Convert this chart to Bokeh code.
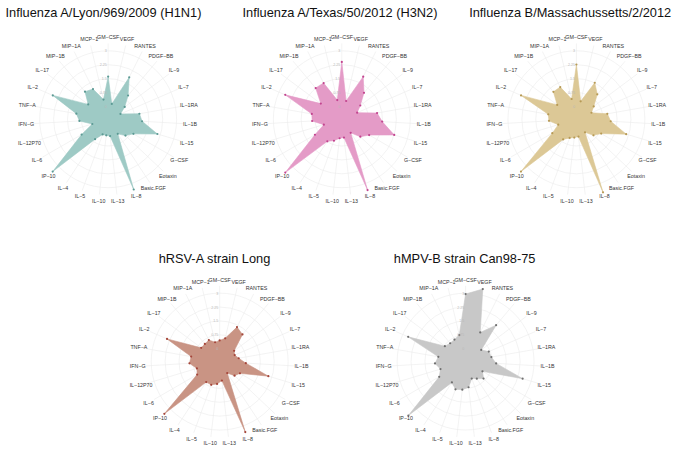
import numpy as np
from bokeh.plotting import figure
from bokeh.models import Range1d
from bokeh.core.properties import value
from bokeh.embed import file_html
from bokeh.resources import INLINE

# ---------------- data ----------------
cytokines = ["GM−CSF", "VEGF", "RANTES", "PDGF−BB", "IL−9", "IL−7", "IL−1RA", "IL−1B",
             "IL−15", "G−CSF", "Eotaxin", "Basic.FGF", "IL−8", "IL−13", "IL−10", "IL−5",
             "IL−4", "IP−10", "IL−6", "IL−12P70", "IFN−G", "TNF−A", "IL−2", "IL−17",
             "MIP−1B", "MIP−1A", "MCP−1"]

h1n1 = [1.61, 0.16, 1.84, 0.98, 0.42, 0.03, 1.02, 1.14, 2.08, 0.88, 0.59, 0.25, 3.34, 0.22,
        0.18, 0.18, 0.59, 3.42, 0.96, 0.20, 0.86, 1.05, 2.56, 0.65, 1.25, 1.13, 0.40]
h3n2 = [2.40, 0.32, 1.88, 1.17, 0.55, 0.21, 1.24, 1.49, 2.26, 1.01, 0.68, 0.18, 3.37, 0.30,
        0.34, 0.54, 0.73, 3.50, 0.98, 0.32, 0.91, 0.95, 2.63, 0.72, 1.50, 1.49, 0.37]
flub = [2.26, 0.30, 1.51, 1.06, 0.47, 0.19, 1.00, 1.16, 2.11, 0.85, 0.57, 0.15, 3.50, 0.25,
        0.30, 0.38, 0.61, 3.42, 0.81, 0.33, 0.79, 0.85, 2.56, 0.60, 1.24, 1.25, 0.43]
hrsv = [0.45, 0.60, 1.39, 1.22, 0.28, 0.19, 0.35, 0.72, 2.05, 0.57, 0.41, 0.05, 3.35, 0.34,
        0.52, 0.64, 0.63, 3.41, 0.71, 0.59, 0.94, 0.87, 2.40, 0.55, 0.55, 0.61, 0.38]
hmpv = [2.95, 3.33, 1.07, 1.87, 0.36, 0.67, 0.72, 0.96, 2.52, 0.36, 0.64, 0.41, 0.28, 0.70,
        0.83, 0.90, 0.65, 3.55, 0.95, 0.72, 0.96, 0.80, 2.68, 0.70, 0.60, 0.64, 0.78]

titles = ["Influenza A/Lyon/969/2009 (H1N1)", "Influenza A/Texas/50/2012 (H3N2)",
          "Influenza B/Massachussetts/2/2012", "hRSV-A strain Long", "hMPV-B strain Can98-75"]
grid_values = [0, 0.75, 1.5, 2.25, 3]
grid_labels = ["0", "0.75", "1.5", "2.25", "3"]

series = [h1n1, h3n2, flub, hrsv, hmpv]
fill_colors = ["#9ecac5", "#e49bc7", "#dcc896", "#c99484", "#c8c8c8"]
point_colors = ["#5c9a94", "#c2448f", "#b79a55", "#a5463a", "#707070"]

# ---------------- layout (reference pixel space) ----------------
centers = [(107.5, 126), (349.5, 126), (592.5, 126), (223, 377), (477.7, 377)]
title_pos = [(103, 15), (348, 15), (586, 15), (218, 270), (476.7, 270.5)]
R0 = 13.3     # radius at value 0
K = 19.2      # px per unit
R_OUT = 78.5  # spoke length
R_LAB = 85    # label radius

FONT = value("Liberation Sans")

p = figure(width=680, height=448, x_range=Range1d(-4, 700.3), y_range=Range1d(467, 3),
           output_backend="svg", toolbar_location=None, min_border=0,
           x_axis_type=None, y_axis_type=None)
p.grid.visible = False
p.outline_line_color = None
p.background_fill_color = "white"

n = len(cytokines)
theta = 2 * np.pi * np.arange(n) / n
s, c = np.sin(theta), np.cos(theta)

for k in range(5):
    cx, cy = centers[k]
    vals = np.array(series[k])
    # grid circles
    gr = R0 + K * np.array(grid_values)
    p.circle(x=[cx] * len(gr), y=[cy] * len(gr), radius=list(gr),
             fill_color=None, line_color="#ebebeb", line_width=0.6)
    # spokes
    p.segment(x0=[cx] * n, y0=[cy] * n, x1=list(cx + R_OUT * s), y1=list(cy - R_OUT * c),
              line_color="#ebebeb", line_width=0.6)
    # polygon
    r = R0 + K * vals
    xs = cx + r * s
    ys = cy - r * c
    p.patch(list(xs), list(ys), fill_color=fill_colors[k], fill_alpha=1.0,
            line_color=fill_colors[k], line_width=0.6)
    p.scatter(list(xs), list(ys), size=2.2, fill_color=point_colors[k],
              line_color=None, marker="circle")
    # grid value labels
    p.text(x=[cx - 1.5] * len(gr), y=list(cy - gr), text=grid_labels,
           text_align="right", text_baseline="middle", text_font=FONT,
           text_font_size=value("3.6px"), text_color="#b8b8b8")
    # axis labels
    p.text(x=list(cx + R_LAB * s), y=list(cy - R_LAB * c), text=cytokines,
           text_align="center", text_baseline="middle", text_font=FONT,
           text_font_size=value("5.3px"), text_color="#333333")
    # title
    tx, ty = title_pos[k]
    p.text(x=[tx], y=[ty], text=[titles[k]], text_align="center",
           text_baseline="alphabetic", text_font=FONT,
           text_font_size=value("12.8px"), text_color="#111111")

open("out.html", "w").write(file_html(p, INLINE))
